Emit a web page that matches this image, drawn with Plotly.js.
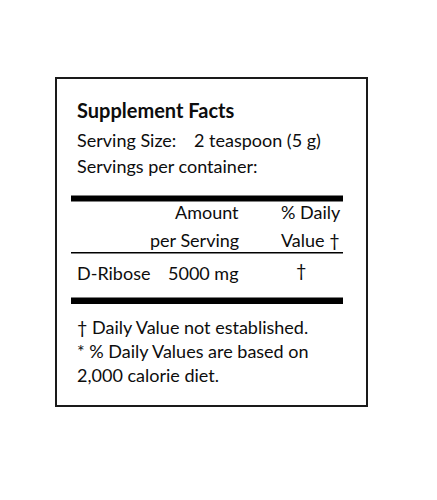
<!DOCTYPE html>
<html>
<head>
<meta charset="utf-8">
<script src="https://cdn.plot.ly/plotly-3.0.1.min.js"></script>
<style>
  html, body { margin: 0; padding: 0; background: #ffffff; }
  #label { width: 437px; height: 500px; }
</style>
</head>
<body>
<div id="label"></div>
<script>
/* ── DATA ─────────────────────────────────────────────*/
const panelTitle     = "Supplement Facts";
const servingLabels  = ["Serving Size:", "Servings per container:"];
const servingValues  = ["2 teaspoon (5 g)", ""];
const amountHeader   = ["Amount", "per Serving"];
const dailyHeader    = ["% Daily", "Value †"];
const ingredients    = ["D-Ribose"];
const amounts        = ["5000 mg"];
const dailyValues    = ["†"];
const footnotes      = [
    "† Daily Value not established.",
    "* % Daily Values are based on",
    "2,000 calorie diet."
];

/* ── STYLE ────────────────────────────────────────────*/
const ink  = "#0d0d0d";
const face = "Lato, 'Open Sans', sans-serif";
const size = 18;

function note(text, x, y, anchor, opts) {
    return Object.assign({
        text: text, x: x, y: y, xref: "x", yref: "y",
        xanchor: anchor, yanchor: "middle", showarrow: false,
        font: { family: face, size: size, color: ink }
    }, opts || {});
}

/* ── LAYOUT ───────────────────────────────────────────*/
const annotations = [];
annotations.push(note(panelTitle, 75, 110, "left",
    { font: { family: face, size: 20, color: ink, weight: "bold" } }));

const servingY = [140, 166];
servingLabels.forEach((t, i) => {
    annotations.push(note(t, 75, servingY[i], "left"));
    if (servingValues[i]) annotations.push(note(servingValues[i], 192, servingY[i], "left"));
});

const headY = [212, 240];
amountHeader.forEach((t, i) => annotations.push(note(t, 241, headY[i], "right")));
dailyHeader.forEach((t, i) => annotations.push(note(t, 279, headY[i], "left")));

const rowY = [273];
ingredients.forEach((t, i) => {
    annotations.push(note(t, 75, rowY[i], "left"));
    annotations.push(note(amounts[i], 241, rowY[i], "right"));
    annotations.push(note(dailyValues[i], 301, rowY[i] - 3, "center"));
});

const footY = [327, 351, 375];
footnotes.forEach((t, i) => annotations.push(note(t, 75, footY[i], "left")));

const shapes = [
    { type: "rect", x0: 56, x1: 367, y0: 78, y1: 406,
      line: { color: "#1a1a1a", width: 2 }, fillcolor: "rgba(0,0,0,0)" },
    { type: "rect", x0: 71, x1: 343, y0: 195.5, y1: 201.5,
      line: { width: 0 }, fillcolor: "#000000" },
    { type: "line", x0: 71, x1: 343, y0: 252.7, y1: 252.7,
      line: { color: "#000000", width: 1.5 } },
    { type: "rect", x0: 71, x1: 343, y0: 297.5, y1: 304,
      line: { width: 0 }, fillcolor: "#000000" }
];

const layout = {
    width: 437,
    height: 500,
    margin: { t: 0, b: 0, l: 0, r: 0 },
    paper_bgcolor: "#ffffff",
    plot_bgcolor: "#ffffff",
    showlegend: false,
    xaxis: { range: [0, 437], visible: false, fixedrange: true },
    yaxis: { range: [500, 0], visible: false, fixedrange: true },
    shapes: shapes,
    annotations: annotations
};

Plotly.newPlot("label", [], layout, { displayModeBar: false, staticPlot: true });
</script>
</body>
</html>
